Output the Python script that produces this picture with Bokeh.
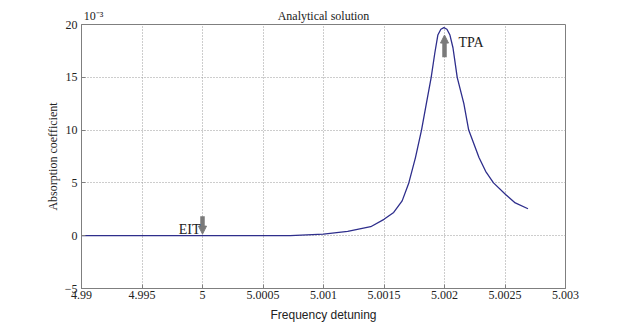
from bokeh.plotting import figure
from bokeh.models import Arrow, NormalHead, Label, FixedTicker, Range1d, LinearAxis
from bokeh.embed import file_html
from bokeh.resources import INLINE

# tick positions (equally spaced on the page) and their printed labels
x_ticks = [0, 1, 2, 3, 4, 5, 6, 7, 8]
x_tick_labels = ["4.99", "4.995", "5", "5.0005", "5.001", "5.0015", "5.002", "5.0025", "5.003"]
y_ticks = [-5, 0, 5, 10, 15, 20]

# absorption curve (x in tick-position units, y in units of 1e-3)
curve_x = [0.0, 1.0, 2.0, 3.0, 3.45, 4.0, 4.4, 4.56, 4.78, 5.0, 5.16, 5.30, 5.41,
           5.52, 5.62, 5.70, 5.78, 5.84, 5.89, 5.94, 5.99, 6.04, 6.09, 6.14,
           6.17, 6.21, 6.32, 6.40, 6.57, 6.68, 6.81, 7.01, 7.17, 7.38]
curve_y = [0.0, 0.0, 0.0, 0.0, 0.0, 0.15, 0.4, 0.6, 0.85, 1.55, 2.2, 3.3, 5.0,
           7.4, 10.0, 12.5, 15.0, 17.3, 19.0, 19.55, 19.7, 19.55, 19.0, 17.8,
           16.6, 15.0, 12.5, 10.0, 7.4, 6.1, 5.0, 3.9, 3.1, 2.55]

# texts above the frame: exponent marker and title
top_text_x = [0.2, 4]
top_texts = ["10\u207b\u00b3", "Analytical solution"]

# annotations
eit_x, eit_y0, eit_y1 = 2, 1.85, 0.15
tpa_x, tpa_y0, tpa_y1 = 6, 16.9, 19.0
tpa_label_y = 18.3

SERIF = "Liberation Serif"
SANS = "Liberation Sans"
TXT = "#222222"

p = figure(width=624, height=331, output_backend="svg", toolbar_location=None,
           x_range=Range1d(0, 8), y_range=Range1d(-5, 20),
           min_border_left=81, min_border_right=59, min_border_top=24, min_border_bottom=43)
p.background_fill_color = "white"
p.border_fill_color = "white"
p.outline_line_color = "#7f7f7f"
p.outline_line_width = 1

p.line(curve_x, curve_y, line_color="#2e2e8c", line_width=1.3)

for ax in (p.xaxis[0], p.yaxis[0]):
    ax.axis_line_color = "#7f7f7f"
    ax.major_tick_line_color = "#7f7f7f"
    ax.major_tick_in = 4
    ax.major_tick_out = 0
    ax.minor_tick_line_color = None
    ax.minor_tick_in = 0
    ax.minor_tick_out = 0
    ax.major_label_text_font = SERIF
    ax.major_label_text_font_size = "12px"
    ax.major_label_text_color = TXT
    ax.axis_label_text_font_style = "normal"
    ax.axis_label_text_color = TXT

p.xaxis[0].ticker = FixedTicker(ticks=x_ticks)
p.xaxis[0].major_label_overrides = {t: s for t, s in zip(x_ticks, x_tick_labels)}
p.xaxis[0].axis_label = "Frequency detuning"
p.xaxis[0].axis_label_text_font = SANS
p.xaxis[0].axis_label_text_font_size = "12px"
p.xaxis[0].axis_label_standoff = 6
p.xaxis[0].major_label_standoff = 2

p.yaxis[0].ticker = FixedTicker(ticks=y_ticks)
p.yaxis[0].axis_label = "Absorption coefficient"
p.yaxis[0].axis_label_text_font = SERIF
p.yaxis[0].axis_label_text_font_size = "12px"
p.yaxis[0].axis_label_standoff = 2
p.yaxis[0].major_label_standoff = 4

# top axis used only to carry the title and the exponent texts
top = LinearAxis(ticker=FixedTicker(ticks=top_text_x),
                 major_label_overrides={t: s for t, s in zip(top_text_x, top_texts)})
top.axis_line_color = None
top.major_tick_line_color = None
top.minor_tick_line_color = None
top.major_tick_in = 0
top.major_tick_out = 0
top.minor_tick_in = 0
top.minor_tick_out = 0
top.major_label_standoff = 2
top.major_label_text_font = SERIF
top.major_label_text_font_size = "12px"
top.major_label_text_color = TXT
p.add_layout(top, "above")

for g in (p.xgrid[0], p.ygrid[0]):
    g.grid_line_color = "#9a9a9a"
    g.grid_line_dash = "1 2"
    g.grid_line_width = 1

gray = "#7a7a7a"
p.add_layout(Arrow(x_start=eit_x, y_start=eit_y0, x_end=eit_x, y_end=eit_y1,
                   line_color=gray, line_width=4.5,
                   end=NormalHead(size=8, fill_color=gray, line_color=gray)))
p.add_layout(Arrow(x_start=tpa_x, y_start=tpa_y0, x_end=tpa_x, y_end=tpa_y1,
                   line_color=gray, line_width=4.5,
                   end=NormalHead(size=8, fill_color=gray, line_color=gray)))
p.add_layout(Label(x=eit_x, y=0, text="EIT", text_align="right", text_baseline="bottom",
                   x_offset=-2, y_offset=-1, text_font=SERIF, text_font_size="14px",
                   text_color=TXT))
p.add_layout(Label(x=tpa_x, y=tpa_label_y, text="TPA", text_align="left",
                   text_baseline="middle", x_offset=14, text_font=SERIF,
                   text_font_size="14px", text_color=TXT))

open("out.html", "w").write(file_html(p, INLINE))
